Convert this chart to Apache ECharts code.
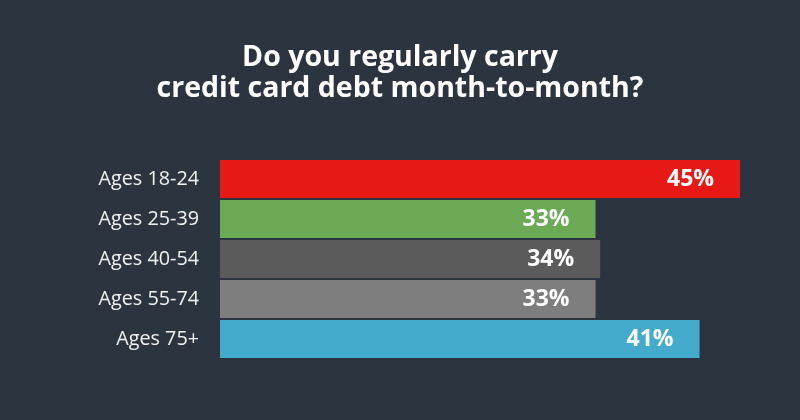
<!DOCTYPE html>
<html><head><meta charset="utf-8">
<script src="https://cdn.jsdelivr.net/npm/echarts@6/dist/echarts.min.js"></script>
<style>html,body{margin:0;padding:0;background:#2c353f;}#c{width:800px;height:420px;}</style>
</head><body><div id="c"></div>
<script>
const categories = ["Ages 18-24", "Ages 25-39", "Ages 40-54", "Ages 55-74", "Ages 75+"];
const values = [45, 32.5, 32.9, 32.5, 41.5];
const valueLabels = ["45%", "33%", "34%", "33%", "41%"];
const colors = ["#e61916", "#6daa55", "#5b5b5b", "#7e7e7e", "#45abcd"];

const chart = echarts.init(document.getElementById('c'));
chart.setOption({
  backgroundColor: '#2c353f',
  animation: false,
  title: {
    text: 'Do you regularly carry\ncredit card debt month-to-month?',
    left: 'center', top: 37,
    textStyle: { color: '#ffffff', fontFamily: 'Open Sans', fontWeight: 'bold', fontSize: 28.5, lineHeight: 31 }
  },
  grid: { left: 220, right: 60, top: 159, bottom: 61, containLabel: false },
  xAxis: { type: 'value', min: 0, max: 45, show: false },
  yAxis: {
    type: 'category', data: categories, inverse: true,
    axisLine: { show: false }, axisTick: { show: false }, splitLine: { show: false },
    axisLabel: { color: '#f2f2f2', fontFamily: 'Open Sans', fontSize: 19.8, margin: 21 }
  },
  series: [{
    type: 'bar',
    barWidth: 38,
    data: values.map((v, i) => ({ value: v, itemStyle: { color: colors[i] } })),
    label: {
      show: true, position: 'insideRight', distance: 26,
      color: '#ffffff', fontFamily: 'Open Sans', fontWeight: 'bold', fontSize: 23,
      formatter: p => valueLabels[p.dataIndex]
    }
  }]
});
</script></body></html>
